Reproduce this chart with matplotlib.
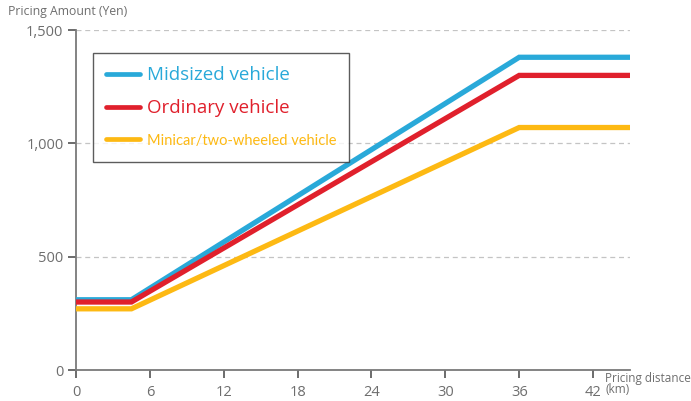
import matplotlib
matplotlib.use("Agg")

import matplotlib.pyplot as plt

# Pricing distance (km) at each break point of the fare lines
distance_km = [0, 4.5, 36, 45]

# Pricing amount (Yen) per vehicle class
midsized = [310, 310, 1380, 1380]
ordinary = [300, 300, 1300, 1300]
minicar = [270, 270, 1070, 1070]

series_labels = ["Midsized vehicle", "Ordinary vehicle", "Minicar/two-wheeled vehicle"]
series_colors = ["#29a9d9", "#e0202c", "#fdb913"]

x_ticks = [0, 6, 12, 18, 24, 30, 36, 42]
y_ticks = [0, 500, 1000, 1500]
y_tick_labels = ["0", "500", "1,000", "1,500"]

AXIS_GRAY = "#7a7a7a"
TEXT_GRAY = "#6e6e6e"

plt.rcParams["font.family"] = ["Open Sans", "DejaVu Sans"]

fig = plt.figure(figsize=(6.91, 4.01), dpi=100)
ax = fig.add_axes([0.110, 0.0773, 0.8017, 0.8477])

for values, label, color in zip([midsized, ordinary, minicar], series_labels, series_colors):
    ax.plot(distance_km, values, color=color, lw=3.8, label=label,
            solid_capstyle="round", solid_joinstyle="miter", zorder=3)

ax.set_xlim(0, 45)
ax.set_ylim(0, 1500)
ax.set_xticks(x_ticks)
ax.set_yticks(y_ticks)
ax.set_yticklabels(y_tick_labels)

for y in y_ticks[1:]:
    ax.axhline(y, color="#c4c4c4", lw=0.9, ls=(0, (4, 3)), zorder=1)

for side in ("top", "right"):
    ax.spines[side].set_visible(False)
for side in ("left", "bottom"):
    ax.spines[side].set_color(AXIS_GRAY)
    ax.spines[side].set_linewidth(1.3)

ax.tick_params(axis="both", direction="out", length=6, width=1.1,
               color="#444444", labelcolor=TEXT_GRAY, labelsize=10.5, pad=3)
ax.tick_params(axis="x", pad=5)

fig.text(0.011, 0.955, "Pricing Amount (Yen)", fontsize=8.8, color=TEXT_GRAY,
         ha="left", va="bottom")
fig.text(0.876, 0.012, "Pricing distance\n(km)", fontsize=8.5, color=TEXT_GRAY,
         ha="left", va="bottom", linespacing=0.85)

leg = ax.legend(loc="upper left", bbox_to_anchor=(0.031, 0.932), borderaxespad=0,
                frameon=True, fancybox=False, edgecolor="#333333", handlelength=1.8,
                handletextpad=0.35, borderpad=0.7, labelspacing=0.8,
                fontsize=13.5, labelcolor=series_colors)
leg.get_frame().set_linewidth(1.0)
for line in leg.get_lines():
    line.set_linewidth(3.4)
leg.get_texts()[2].set_fontsize(10.5)
leg.get_texts()[2].set_family(["Lato", "DejaVu Sans"])

fig.savefig("out.png", dpi=100)
